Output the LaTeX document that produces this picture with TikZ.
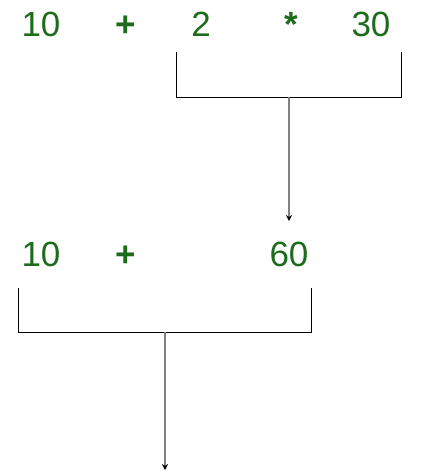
\documentclass[tikz,border=0pt]{standalone}
\usepackage{fontspec}
\setmainfont{Liberation Sans}
\usetikzlibrary{arrows.meta}
\definecolor{numgreen}{RGB}{28,108,28}
\definecolor{arrgray}{RGB}{128,128,128}
\begin{document}
\begin{tikzpicture}[x=1pt,y=-1pt,
  num/.style={text=numgreen,font=\fontsize{35}{40}\selectfont,anchor=base,inner sep=0pt},
  op/.style={text=numgreen,font=\fontsize{35}{40}\selectfont\bfseries,anchor=base,inner sep=0pt},
  bracket/.style={draw=black,line width=1pt},
  flow/.style={draw=arrgray,line width=1.5pt,-{Stealth[length=6pt,width=6pt,black]}}]
\useasboundingbox (0,0) rectangle (436,475);
% row 1
\node[num] (a1) at (41,36) {10};
\node[op]  (p1) at (126,36) {+};
\node[num] (b1) at (201,36) {2};
\node[op]  (m1) at (291,36) {*};
\node[num] (c1) at (371,36) {30};
% bracket 1
\coordinate (l1t) at (176,52);
\coordinate (l1b) at (176,97);
\coordinate (r1t) at (401,52);
\coordinate (r1b) at (401,97);
\coordinate (mid1) at (289,97);
\draw[bracket] (l1t) -- (l1b) -- (r1b) -- (r1t);
% row 2
\node[num] (a2) at (41,266) {10};
\node[op]  (p2) at (126,266) {+};
\node[num] (s2) at (289,266) {60};
\coordinate (end1) at (289,221);
\draw[flow] (mid1) -- (end1);
% bracket 2
\coordinate (l2t) at (18,288);
\coordinate (l2b) at (18,332);
\coordinate (r2t) at (311,288);
\coordinate (r2b) at (311,332);
\coordinate (mid2) at (165,332);
\coordinate (end2) at (165,470);
\draw[bracket] (l2t) -- (l2b) -- (r2b) -- (r2t);
\draw[flow] (mid2) -- (end2);
\end{tikzpicture}
\end{document}
